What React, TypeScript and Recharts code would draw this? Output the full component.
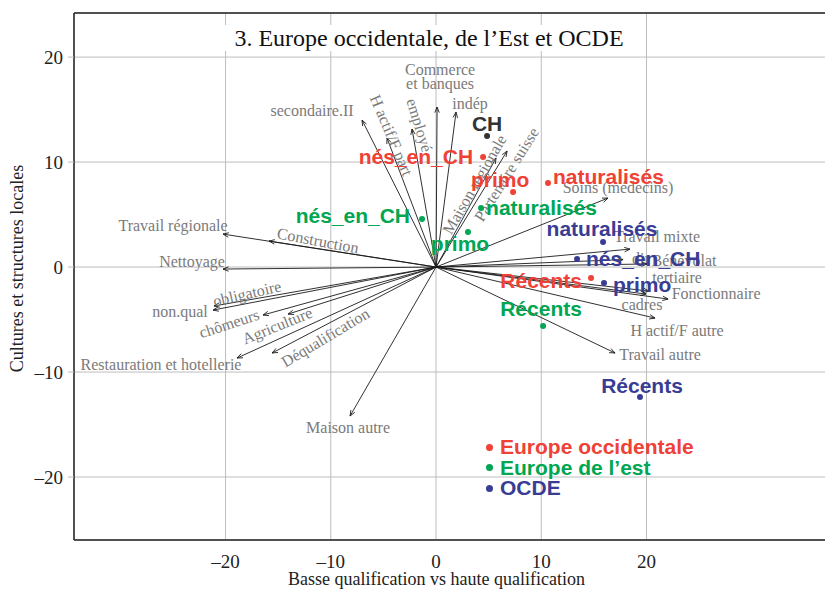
import {
  CartesianGrid,
  Legend,
  ReferenceLine,
  Scatter,
  ScatterChart,
  XAxis,
  YAxis,
} from "recharts";

// variable loadings (arrows from the origin)
const arrowNames = [
  "secondaire.II", "H actif/F part", "employé", "Commerce\net banques", "indép",
  "Maison régionale", "Partenaire suisse", "Soins (médecins)", "Travail mixte", "dir",
  "Bénévolat", "tertiaire", "Fonctionnaire", "cadres", "H actif/F autre",
  "Travail autre", "Travail régionale", "Construction", "Nettoyage", "obligatoire",
  "non.qual", "chômeurs", "Agriculture", "Restauration et hotellerie", "Déqualification",
  "Maison autre",
];
const arrowX = [
  -7.03, -4.66, -2.28, 0.1, 1.9,
  5.7, 6.75, 16.34, 18.43, 17.77,
  20.05, 20.24, 22.05, 19.95, 20.81,
  17.01, -20.24, -15.87, -20.24, -21.1,
  -21.19, -16.44, -14.06, -18.91, -15.58,
  -8.17,
];
const arrowY = [
  14.0, 12.29, 13.15, 15.24, 14.76,
  10.38, 11.05, 6.57, 1.71, 0.71,
  0.29, -2.29, -3.05, -2.57, -4.86,
  -8.19, 3.14, 2.48, -0.19, -3.71,
  -4.1, -4.57, -4.48, -8.67, -8.19,
  -14.19,
];

// group scores
const groupNames = ["nés_en_CH", "primo", "naturalisés", "Récents"];
const westX = [4.47, 7.32, 10.64, 14.73];
const westY = [10.48, 7.14, 8.0, -1.05];
const eastX = [-1.33, 3.04, 4.28, 10.17];
const eastY = [4.57, 3.33, 5.62, -5.62];
const ocdeX = [13.4, 15.96, 15.87, 19.38];
const ocdeY = [0.76, -1.52, 2.38, -12.38];
const chX = [4.85];
const chY = [12.48];

const xTicks = [-20, -10, 0, 10, 20];
const yTicks = [-20, -10, 0, 10, 20];

const X_DOMAIN: [number, number] = [-34.4, 40.0];
const Y_DOMAIN: [number, number] = [-26.0, 24.2];

const RED = "#ef4136";
const GREEN = "#00a651";
const BLUE = "#393c94";
const DARK = "#333333";

const SERIF = "'Liberation Serif', 'Times New Roman', serif";
const SANS = "'Liberation Sans', Arial, sans-serif";

// label placement relative to arrow tip (pixels)
type LabelPos = { dx: number; dy: number; angle?: number; anchor?: "start" | "middle" | "end" };
const ARROW_LABEL: Record<string, LabelPos> = {
  "secondaire.II": { dx: -50, dy: -10 },
  "H actif/F part": { dx: 5, dy: -3, angle: 67 },
  "employé": { dx: 8, dy: -4, angle: 73 },
  "Commerce\net banques": { dx: 3, dy: -31 },
  "indép": { dx: 14, dy: -9 },
  "Maison régionale": { dx: -22, dy: 26, angle: -60 },
  "Partenaire suisse": { dx: -1, dy: 23, angle: -58 },
  "Soins (médecins)": { dx: 10, dy: -11 },
  "Travail mixte": { dx: 27, dy: -13 },
  "dir": { dx: 9, dy: -2, anchor: "start" },
  "Bénévolat": { dx: 37, dy: -4 },
  "tertiaire": { dx: 28, dy: -14 },
  "Fonctionnaire": { dx: 48, dy: -6 },
  "cadres": { dx: -4, dy: 10 },
  "H actif/F autre": { dx: 22, dy: 12 },
  "Travail autre": { dx: 45, dy: 1 },
  "Travail régionale": { dx: -50, dy: -9 },
  "Construction": { dx: 49, dy: -1, angle: 10.6 },
  "Nettoyage": { dx: -31, dy: -8 },
  "obligatoire": { dx: 33, dy: -13, angle: -13 },
  "non.qual": { dx: -33, dy: 1 },
  "chômeurs": { dx: -34, dy: 8, angle: -18 },
  "Agriculture": { dx: -11, dy: 11, angle: -22 },
  "Restauration et hotellerie": { dx: -76, dy: 6 },
  "Déqualification": { dx: 53, dy: -16, angle: -31 },
  "Maison autre": { dx: -2, dy: 11 },
};

// label placement relative to group point (pixels)
const POINT_LABEL: Record<string, Record<string, LabelPos>> = {
  west: {
    "nés_en_CH": { dx: -10, dy: -1, anchor: "end" },
    "primo": { dx: -13, dy: -13 },
    "naturalisés": { dx: 5, dy: -7, anchor: "start" },
    "Récents": { dx: -9, dy: 2, anchor: "end" },
  },
  east: {
    "nés_en_CH": { dx: -12, dy: -4, anchor: "end" },
    "primo": { dx: -8, dy: 11 },
    "naturalisés": { dx: 5, dy: -1, anchor: "start" },
    "Récents": { dx: -2, dy: -18 },
  },
  ocde: {
    "nés_en_CH": { dx: 9, dy: -1, anchor: "start" },
    "primo": { dx: 9, dy: 1, anchor: "start" },
    "naturalisés": { dx: -1, dy: -14 },
    "Récents": { dx: 2, dy: -12 },
  },
  ch: {
    "CH": { dx: 0, dy: -13 },
  },
};

const toPoints = (xs: number[], ys: number[], names: string[]) =>
  xs.map((x, i) => ({ x, y: ys[i], name: names[i] }));

const westData = toPoints(westX, westY, groupNames);
const eastData = toPoints(eastX, eastY, groupNames);
const ocdeData = toPoints(ocdeX, ocdeY, groupNames);
const chData = toPoints(chX, chY, ["CH"]);

const fmt = (v: number) => (v < 0 ? `\u2013${-v}` : `${v}`);

function ArrowShape(props: any) {
  const { x1, y1, x2, y2, name } = props;
  const ang = Math.atan2(y2 - y1, x2 - x1);
  const L = 6;
  const W = 0.38;
  const pts = [
    [x2 - L * Math.cos(ang - W), y2 - L * Math.sin(ang - W)],
    [x2, y2],
    [x2 - L * Math.cos(ang + W), y2 - L * Math.sin(ang + W)],
  ]
    .map((p) => p.join(","))
    .join(" ");
  const pos = ARROW_LABEL[name] ?? { dx: 0, dy: -8 };
  const lx = x2 + pos.dx;
  const ly = y2 + pos.dy;
  const lines = name.split("\n");
  return (
    <g>
      <line x1={x1} y1={y1} x2={x2} y2={y2} stroke="#1a1a1a" strokeWidth={0.9} />
      <polyline points={pts} fill="none" stroke="#1a1a1a" strokeWidth={0.9} />
      <text
        x={lx}
        y={ly}
        textAnchor={pos.anchor ?? "middle"}
        dominantBaseline="central"
        fontFamily={SERIF}
        fontSize={16}
        fill="#7a7a7a"
        transform={pos.angle ? `rotate(${pos.angle}, ${lx}, ${ly})` : undefined}
      >
        {lines.map((l: string, i: number) => (
          <tspan key={l} x={lx} y={ly + (i - (lines.length - 1) / 2) * 14}>
            {l}
          </tspan>
        ))}
      </text>
    </g>
  );
}

const makePointShape = (group: string, color: string) => (props: any) => {
  const { cx, cy, payload } = props;
  const pos = POINT_LABEL[group][payload.name] ?? { dx: 0, dy: -12 };
  return (
    <g>
      <circle cx={cx} cy={cy} r={3} fill={color} />
      <text
        x={cx + pos.dx}
        y={cy + pos.dy}
        textAnchor={pos.anchor ?? "middle"}
        dominantBaseline="central"
        fontFamily={SANS}
        fontWeight="bold"
        fontSize={21}
        fill={color}
      >
        {payload.name}
      </text>
    </g>
  );
};

const LEGEND_ORDER = ["Europe occidentale", "Europe de l\u2019est", "OCDE"];
const LEGEND_COLORS: Record<string, string> = {
  "Europe occidentale": RED,
  "Europe de l\u2019est": GREEN,
  OCDE: BLUE,
};

function GroupLegend(props: any) {
  const items = (props.payload ?? [])
    .filter((e: any) => LEGEND_COLORS[e.value])
    .sort((a: any, b: any) => LEGEND_ORDER.indexOf(a.value) - LEGEND_ORDER.indexOf(b.value));
  return (
    <div style={{ fontFamily: SANS, fontWeight: "bold", fontSize: 21, lineHeight: "20.5px" }}>
      {items.map((e: any) => (
        <div key={e.value} style={{ display: "flex", alignItems: "center", color: LEGEND_COLORS[e.value] }}>
          <span
            style={{
              display: "inline-block",
              width: 7,
              height: 7,
              borderRadius: "50%",
              background: LEGEND_COLORS[e.value],
              marginRight: 7,
            }}
          />
          <span>{e.value}</span>
        </div>
      ))}
    </div>
  );
}

export default function App() {
  return (
    <div
      style={{
        position: "absolute",
        left: 0,
        top: 0,
        width: 825,
        height: 589,
        overflow: "hidden",
        background: "#fff",
      }}
    >
      <ScatterChart width={900} height={589} margin={{ top: 13, right: 43, bottom: 0, left: 0 }}>
        <CartesianGrid stroke="#bdbdbd" strokeWidth={1} />
        <XAxis
          type="number"
          dataKey="x"
          domain={X_DOMAIN}
          ticks={xTicks}
          allowDataOverflow
          height={49}
          tickLine={false}
          tickMargin={9}
          tickFormatter={fmt}
          axisLine={{ stroke: "#222", strokeWidth: 1.5 }}
          tick={{ fontFamily: SERIF, fontSize: 19, fill: "#222" }}
          label={{
            value: "Basse qualification vs haute qualification",
            position: "insideBottom",
            offset: 4,
            dx: -29,
            fontFamily: SERIF,
            fontSize: 18,
            fill: "#222",
          }}
        />
        <YAxis
          type="number"
          dataKey="y"
          domain={Y_DOMAIN}
          ticks={yTicks}
          allowDataOverflow
          width={74}
          tickSize={6}
          tickMargin={5}
          tickFormatter={fmt}
          tickLine={{ stroke: "#bdbdbd" }}
          axisLine={{ stroke: "#222", strokeWidth: 1.5 }}
          tick={{ fontFamily: SERIF, fontSize: 19, fill: "#222" }}
          label={{
            value: "Cultures et structures locales",
            angle: -90,
            position: "insideLeft",
            offset: 17,
            dy: -8,
            fontFamily: SERIF,
            fontSize: 18,
            fill: "#222",
            style: { textAnchor: "middle" },
          }}
        />
        <ReferenceLine y={Y_DOMAIN[1]} stroke="#222" strokeWidth={1.5} />
        {arrowNames.map((name, i) => (
          <ReferenceLine
            key={name}
            segment={[
              { x: 0, y: 0 },
              { x: arrowX[i], y: arrowY[i] },
            ]}
            shape={(p: any) => <ArrowShape {...p} name={name} />}
          />
        ))}
        <Scatter
          name="Europe occidentale"
          data={westData}
          fill={RED}
          shape={makePointShape("west", RED)}
          isAnimationActive={false}
        />
        <Scatter
          name={"Europe de l\u2019est"}
          data={eastData}
          fill={GREEN}
          shape={makePointShape("east", GREEN)}
          isAnimationActive={false}
        />
        <Scatter
          name="OCDE"
          data={ocdeData}
          fill={BLUE}
          shape={makePointShape("ocde", BLUE)}
          isAnimationActive={false}
        />
        <Scatter
          name="CH"
          data={chData}
          fill={DARK}
          legendType="none"
          shape={makePointShape("ch", DARK)}
          isAnimationActive={false}
        />
        <Legend
          layout="vertical"
          align="center"
          verticalAlign="middle"
          content={<GroupLegend />}
          wrapperStyle={{ left: 486, top: 437, width: 260 }}
        />
      </ScatterChart>
      <div
        style={{
          position: "absolute",
          left: 224,
          top: 25,
          width: 410,
          height: 26,
          background: "#fff",
          textAlign: "center",
          fontFamily: SERIF,
          fontSize: 24,
          lineHeight: "26px",
          color: "#111",
        }}
      >
        3. Europe occidentale, de l’Est et OCDE
      </div>
    </div>
  );
}
